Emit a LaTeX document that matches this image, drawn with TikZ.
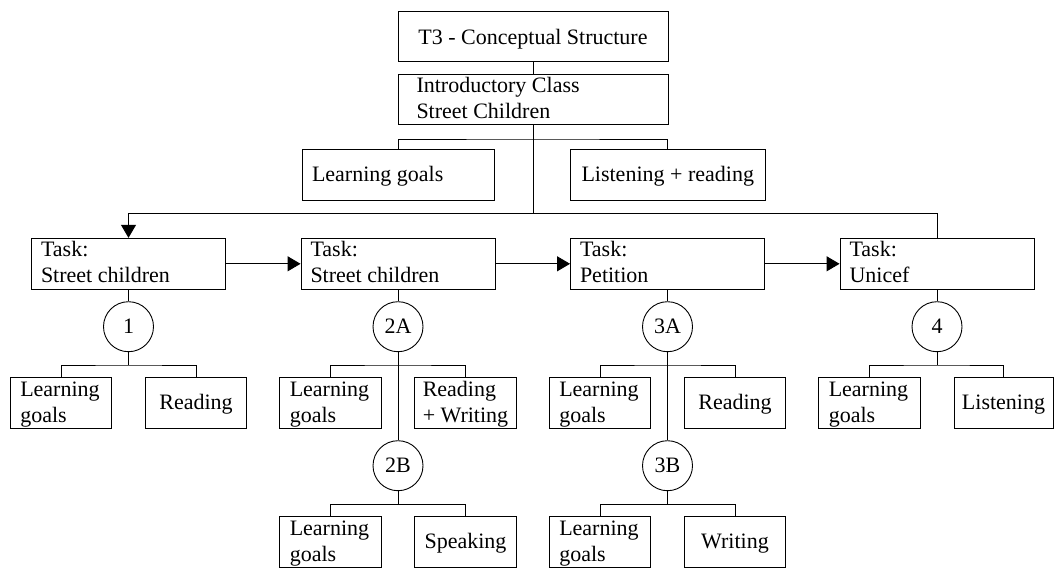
\documentclass[tikz,border=0pt]{standalone}
\usepackage{fontspec}
\setmainfont{Liberation Serif}
\usetikzlibrary{arrows.meta}
% left-aligned box content: #1 width, #2 height, #3 left pad, #4 first baseline, #5 text
\newcommand\boxl[5]{\parbox[c][#2][t]{#1}{\raggedright\leftskip=#3\relax\rule{0pt}{#4}#5}}
% centred box content: #1 width, #2 height, #3 first baseline, #4 text
\newcommand\boxc[4]{\parbox[c][#2][t]{#1}{\centering\rule{0pt}{#3}#4}}
\tikzset{
  base/.style={font=\fontsize{22pt}{26pt}\selectfont},
  bx/.style={draw, line width=0.9pt, inner sep=0pt, base},
  circ/.style={draw, circle, line width=0.9pt, minimum size=50pt, inner sep=0pt, base},
  conn/.style={line width=0.9pt},
  arr/.style={conn, -{Triangle[length=13pt,width=15pt]}},
}
\begin{document}
\begin{tikzpicture}[x=1pt,y=-1pt]
\useasboundingbox (0,0) rectangle (1054,568);
% top part
\node[bx] (t3) at (533,36) {\boxc{270pt}{50pt}{33pt}{T3 - Conceptual Structure}};
\node[bx] (intro) at (533,99.3) {\boxl{270pt}{50pt}{18.5pt}{18pt}{Introductory Class\\Street Children}};
\node[bx] (lg0) at (398,174.6) {\boxl{192pt}{51pt}{10pt}{32.5pt}{Learning goals}};
\node[bx] (lr0) at (667.5,174.6) {\boxl{195pt}{51pt}{11.5pt}{32.5pt}{Listening + reading}};
% tasks
\node[bx] (t1) at (128.5,263.8) {\boxl{194pt}{51pt}{9.5pt}{18pt}{Task:\\Street children}};
\node[bx] (t2) at (398,263.8) {\boxl{194pt}{51pt}{9.5pt}{18pt}{Task:\\Street children}};
\node[bx] (t3b) at (667.5,263.8) {\boxl{194pt}{51pt}{9.5pt}{18pt}{Task:\\Petition}};
\node[bx] (t4) at (937,263.8) {\boxl{194pt}{51pt}{9.5pt}{18pt}{Task:\\Unicef}};
% circles
\node[circ] (c1) at (128.5,326.7) {1};
\node[circ] (c2a) at (398,326.7) {2A};
\node[circ] (c3a) at (667.5,326.7) {3A};
\node[circ] (c4) at (937,326.7) {4};
\node[circ] (c2b) at (398,465.7) {2B};
\node[circ] (c3b) at (667.5,465.7) {3B};
% first row of children
\node[bx] (g1) at (61,402.8) {\boxl{101.5pt}{51pt}{10pt}{19pt}{Learning\\goals}};
\node[bx] (r1) at (196,402.8) {\boxc{101.5pt}{51pt}{32pt}{Reading}};
\node[bx] (g2) at (330.5,402.8) {\boxl{101.5pt}{51pt}{10pt}{19pt}{Learning\\goals}};
\node[bx] (rw2) at (465.5,402.8) {\boxl{101.5pt}{51pt}{8pt}{19pt}{Reading\\+ Writing}};
\node[bx] (g3) at (600,402.8) {\boxl{101.5pt}{51pt}{10pt}{19pt}{Learning\\goals}};
\node[bx] (r3) at (735,402.8) {\boxc{101.5pt}{51pt}{32pt}{Reading}};
\node[bx] (g4) at (869.5,402.8) {\boxl{101.5pt}{51pt}{10pt}{19pt}{Learning\\goals}};
\node[bx] (l4) at (1003.5,402.8) {\boxc{99pt}{51pt}{32pt}{Listening}};
% second row of children
\node[bx] (g2b) at (330.5,542) {\boxl{101.5pt}{51pt}{10pt}{19pt}{Learning\\goals}};
\node[bx] (s2b) at (465.5,542) {\boxc{101.5pt}{51pt}{32pt}{Speaking}};
\node[bx] (g3b) at (600,542) {\boxl{101.5pt}{51pt}{10pt}{19pt}{Learning\\goals}};
\node[bx] (w3b) at (735,542) {\boxc{101.5pt}{51pt}{32pt}{Writing}};
% junctions
\coordinate (jt) at (533,139);
\coordinate (jm) at (533,213);
\coordinate (k1) at (128.5,365);
\coordinate (k2) at (398,365);
\coordinate (k3) at (667.5,365);
\coordinate (k4) at (937,365);
\coordinate (k2b) at (398,504.3);
\coordinate (k3b) at (667.5,504.3);
% connectors
\draw[conn] (t3) -- (intro);
\draw[conn] (intro.south) -- (jm);
\draw[conn] (lg0.north) |- (jt) -| (lr0.north);
\draw[arr] (jm) -| (t1.north);
\draw[conn] (jm) -| (t4.north);
\draw[arr] (t1.east) -- (t2.west);
\draw[arr] (t2.east) -- (t3b.west);
\draw[arr] (t3b.east) -- (t4.west);
\draw[conn] (t1) -- (c1);
\draw[conn] (t2) -- (c2a);
\draw[conn] (t3b) -- (c3a);
\draw[conn] (t4) -- (c4);
\draw[conn] (c1.south) -- (k1);
\draw[conn] (g1.north) |- (k1) -| (r1.north);
\draw[conn] (c2a.south) -- (c2b.north);
\draw[conn] (g2.north) |- (k2) -| (rw2.north);
\draw[conn] (c3a.south) -- (c3b.north);
\draw[conn] (g3.north) |- (k3) -| (r3.north);
\draw[conn] (c4.south) -- (k4);
\draw[conn] (g4.north) |- (k4) -| (l4.north);
\draw[conn] (c2b.south) -- (k2b);
\draw[conn] (g2b.north) |- (k2b) -| (s2b.north);
\draw[conn] (c3b.south) -- (k3b);
\draw[conn] (g3b.north) |- (k3b) -| (w3b.north);
\end{tikzpicture}
\end{document}
